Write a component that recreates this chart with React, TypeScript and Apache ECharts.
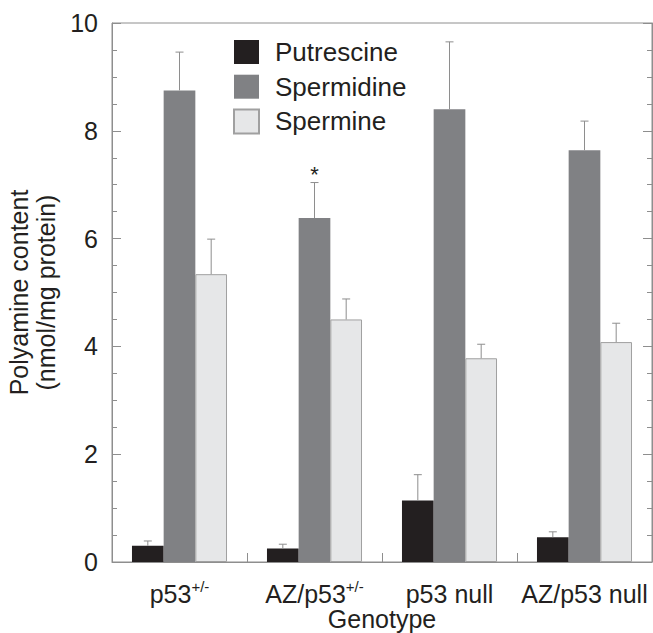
import React, { useEffect, useRef } from "react";
import * as echarts from "echarts";

const genotypeBase = ["p53", "AZ/p53", "p53 null", "AZ/p53 null"];
const genotypeSup = ["+/-", "+/-", "", ""];
const seriesNames = ["Putrescine", "Spermidine", "Spermine"];
const putrescine = [0.3, 0.25, 1.14, 0.46];
const putrescineErr = [0.09, 0.08, 0.48, 0.1];
const spermidine = [8.75, 6.38, 8.4, 7.64];
const spermidineErr = [0.71, 0.66, 1.25, 0.54];
const spermine = [5.34, 4.5, 3.78, 4.08];
const spermineErr = [0.65, 0.38, 0.26, 0.35];
const significance = [[], ["", "*", "", ""], []];
const yTicks = [0, 2, 4, 6, 8, 10];

const FONT = "'Liberation Sans', Arial, Helvetica, sans-serif";
const FRAME = "#8e8e8e";
const TEXT = "#231f20";
const COLORS = ["#231f20", "#808184", "#e6e7e8"];
const GAP = 0.296;

export default function App() {
  const ref = useRef<HTMLDivElement>(null);
  useEffect(() => {
    if (!ref.current) return;
    const chart = echarts.init(ref.current, null, { renderer: "svg" });
    const values = [putrescine, spermidine, spermine];
    const errs = [putrescineErr, spermidineErr, spermineErr];
    const errData: any[] = [];
    values.forEach((arr, si) =>
      arr.forEach((v, ci) => errData.push([ci, si, v, errs[si][ci]]))
    );
    const categories = genotypeBase.map((b, i) => b + genotypeSup[i]);

    chart.setOption({
      animation: false,
      backgroundColor: "#ffffff",
      textStyle: { fontFamily: FONT },
      grid: {
        left: 112,
        right: 1,
        top: 23,
        bottom: 71,
        show: true,
        borderColor: FRAME,
        borderWidth: 1,
        backgroundColor: "transparent",
        outerBoundsMode: "none",
        containLabel: false,
      },
      legend: {
        orient: "vertical",
        left: 233,
        top: 39,
        padding: 0,
        itemWidth: 25,
        itemHeight: 24,
        itemGap: 8.7,
        icon: "rect",
        data: seriesNames,
        textStyle: {
          fontSize: 26,
          lineHeight: 24,
          color: TEXT,
          fontFamily: FONT,
          padding: [0, 0, 0, 11],
        },
      },
      xAxis: {
        type: "category",
        data: categories,
        axisLine: { lineStyle: { color: FRAME, width: 1 } },
        axisTick: {
          show: true,
          inside: true,
          length: 9,
          alignWithLabel: false,
          lineStyle: { color: FRAME },
        },
        axisLabel: {
          margin: 17,
          interval: 0,
          formatter: (_: string, i: number) =>
            genotypeSup[i]
              ? `{m|${genotypeBase[i]}}{s|${genotypeSup[i]}}`
              : `{m|${genotypeBase[i]}}`,
          rich: {
            m: { fontSize: 25, color: TEXT, fontFamily: FONT, lineHeight: 30 },
            s: {
              fontSize: 15,
              color: TEXT,
              fontFamily: FONT,
              verticalAlign: "top",
              lineHeight: 14,
            },
          },
        },
        name: "Genotype",
        nameLocation: "middle",
        nameGap: 44,
        nameMoveOverlap: false,
        nameTextStyle: { fontSize: 25, color: TEXT, fontFamily: FONT },
      },
      yAxis: [
        {
          type: "value",
          min: yTicks[0],
          max: yTicks[yTicks.length - 1],
          interval: 2,
          position: "left",
          splitLine: { show: false },
          axisLine: { show: true, lineStyle: { color: FRAME } },
          axisTick: { show: true, inside: true, length: 9, lineStyle: { color: FRAME } },
          minorTick: { show: true, splitNumber: 4, length: 5, lineStyle: { color: FRAME } },
          axisLabel: { fontSize: 25, color: TEXT, fontFamily: FONT, margin: 14 },
          name: "Polyamine content\n(nmol/mg protein)",
          nameLocation: "middle",
          nameGap: 41,
          nameTextStyle: { fontSize: 25, color: TEXT, fontFamily: FONT, lineHeight: 27 },
        },
        {
          type: "value",
          min: yTicks[0],
          max: yTicks[yTicks.length - 1],
          interval: 2,
          position: "right",
          splitLine: { show: false },
          axisLine: { show: true, lineStyle: { color: FRAME } },
          axisTick: { show: true, inside: true, length: 9, lineStyle: { color: FRAME } },
          minorTick: { show: true, splitNumber: 4, length: 5, lineStyle: { color: FRAME } },
          axisLabel: { show: false },
        },
      ],
      series: [
        ...values.map((arr, si) => ({
          name: seriesNames[si],
          type: "bar",
          data: arr,
          barGap: "0%",
          barCategoryGap: `${GAP * 100}%`,
          itemStyle: {
            color: COLORS[si],
            borderColor: si === 2 ? "#a0a0a0" : COLORS[si],
            borderWidth: si === 2 ? 1 : 0,
          },
        })),
        {
          type: "custom",
          name: "err",
          z: 5,
          encode: { x: 0, y: 2 },
          data: errData,
          renderItem: (params: any, api: any) => {
            const ci = api.value(0);
            const si = api.value(1);
            const v = api.value(2);
            const e = api.value(3);
            const base = api.coord([ci, v]);
            const top = api.coord([ci, v + e]);
            const band = api.size([1, 0])[0];
            const bw = (band * (1 - GAP)) / 3;
            const x = base[0] + (si - 1) * bw;
            const style = { stroke: FRAME, lineWidth: 1 };
            const children: any[] = [
              { type: "line", shape: { x1: x, y1: base[1], x2: x, y2: top[1] }, style },
              { type: "line", shape: { x1: x - 4, y1: top[1], x2: x + 4, y2: top[1] }, style },
            ];
            const mark = (significance[si] || [])[ci];
            if (mark) {
              children.push({
                type: "text",
                style: {
                  text: mark,
                  x: x,
                  y: top[1] - 8,
                  align: "center",
                  verticalAlign: "middle",
                  fontSize: 22,
                  fontFamily: FONT,
                  fill: TEXT,
                },
              });
            }
            return { type: "group", children };
          },
        },
      ],
    });
    return () => chart.dispose();
  }, []);
  return (
    <div
      ref={ref}
      style={{ position: "fixed", left: 0, top: 0, width: 653, height: 633 }}
    />
  );
}
